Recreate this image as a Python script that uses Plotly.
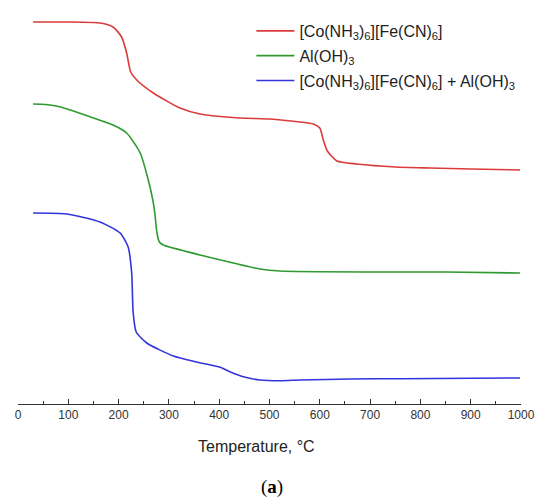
import plotly.graph_objects as go

# TGA curves (y in arbitrary offset units, curves stacked)
t_red = [30, 100, 163, 189, 206, 216, 224, 236, 269, 322, 362, 441, 501, 560, 587, 600, 607, 615, 634, 673, 750, 819, 900, 998]
y_red = [382, 382, 381, 377, 367, 351, 332, 324, 311, 296, 290, 286, 285, 282, 280, 276, 264, 253, 243, 240, 237, 236, 235, 234]

t_green = [30, 55, 85, 110, 150, 189, 216, 243, 259, 268, 272, 276, 281, 289, 362, 428, 481, 521, 700, 850, 998]
y_green = [300, 299.5, 297, 293, 286, 279, 271, 251, 224, 204, 191, 172, 162, 159, 149, 141, 135, 133, 132, 132, 131]

t_blue = [30, 97, 163, 203, 219, 226, 229, 235, 256, 309, 355, 402, 421, 448, 481, 521, 561, 660, 760, 998]
y_blue = [191, 190, 182, 171, 157, 131, 91, 72, 61, 48, 42, 36.7, 32.3, 27.3, 24, 23.3, 24, 25, 25.3, 26]

names = ["[Co(NH<sub>3</sub>)<sub>6</sub>][Fe(CN)<sub>6</sub>]",
         "Al(OH)<sub>3</sub>",
         "[Co(NH<sub>3</sub>)<sub>6</sub>][Fe(CN)<sub>6</sub>] + Al(OH)<sub>3</sub>"]
colors = ["#dd3b3b", "#2f9a2f", "#3434dc"]

fig = go.Figure()
for i, (t, y, name, c) in enumerate(zip([t_red, t_green, t_blue], [y_red, y_green, y_blue], names, colors)):
    fig.add_trace(go.Scatter(x=t, y=y, mode="lines", name=name, legendgroup=str(i),
                             line=dict(color=c, width=1.6, shape="spline", smoothing=0.6)))

fig.update_xaxes(range=[0, 1000], dtick=100, ticks="inside", ticklen=5, tickwidth=1,
                 tickcolor="#333", showline=True, linecolor="#333", linewidth=1,
                 showgrid=False, zeroline=False, automargin=False,
                 minor=dict(dtick=50, ticks="inside", ticklen=3, tickcolor="#333", showgrid=False),
                 tickfont=dict(size=12, color="#333"))
fig.update_yaxes(range=[0, 394], visible=False)

# axis title and panel caption
fig.add_annotation(text="Temperature, °C", xref="paper", yref="paper", x=0.474, y=-0.109,
                   xanchor="center", yanchor="middle", showarrow=False,
                   font=dict(size=16, color="#222"))
fig.add_annotation(text="(<b>a</b>)", xref="paper", yref="paper", x=0.505, y=-0.211,
                   xanchor="center", yanchor="middle", showarrow=False,
                   font=dict(family="Liberation Serif", size=19, color="#000"))

fig.update_layout(
    width=542, height=494,
    margin=dict(l=10, r=29, t=2, b=98),
    plot_bgcolor="white", paper_bgcolor="white",
    font=dict(family="Liberation Sans, Arial", color="#222"),
    legend=dict(x=0.464, y=0.99, xanchor="left", yanchor="top", bgcolor="rgba(0,0,0,0)",
                font=dict(size=16, color="#222"), tracegroupgap=1, itemwidth=38),
    showlegend=True,
)

fig.write_html("out.html")
